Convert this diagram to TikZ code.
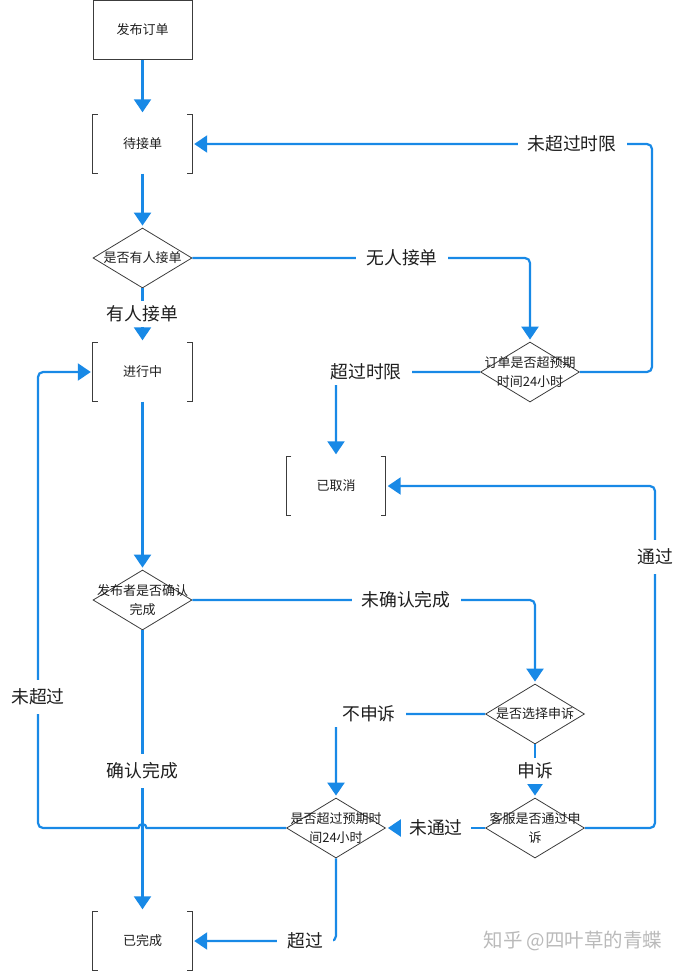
\documentclass[tikz,border=0pt]{standalone}
\usepackage{fontspec}
\setmainfont{Noto Sans CJK SC}
\usetikzlibrary{arrows.meta,shapes.geometric}
\definecolor{flowblue}{RGB}{24,137,230}
\definecolor{edgegray}{RGB}{60,60,60}
\definecolor{txt}{RGB}{30,30,30}
\newcommand\nodefont{\fontsize{13}{18.5}\selectfont}
\newcommand\lblfont{\fontsize{17.8}{20}\selectfont}
\newcommand\brk[1]{%
  \draw[boxline] ([xshift=5pt]#1.north west) -- (#1.north west) -- (#1.south west) -- ([xshift=5pt]#1.south west);
  \draw[boxline] ([xshift=-5pt]#1.north east) -- (#1.north east) -- (#1.south east) -- ([xshift=-5pt]#1.south east);}
\begin{document}
\begin{tikzpicture}[x=1pt,y=-1pt,
  boxline/.style={draw=edgegray,line width=0.8pt},
  boxnode/.style={rectangle,minimum width=99pt,minimum height=59pt,inner sep=0pt,font=\nodefont,text=txt},
  dia/.style={diamond,draw=edgegray,line width=0.8pt,minimum width=99pt,minimum height=60pt,inner sep=0pt},
  dtext/.style={align=center,font=\nodefont,text=txt,inner sep=0pt},
  conn/.style={draw=flowblue,line width=2.2pt,rounded corners=5pt},
  arr/.style={conn,-{Triangle[width=17pt,length=13pt]},shorten >=2pt},
  lbl/.style={fill=white,font=\lblfont,text=txt,inner xsep=10pt,inner ysep=5pt},
  wm/.style={font=\fontsize{19.5}{22}\selectfont,text=black!27}]
\useasboundingbox (0,0) rectangle (683,972);

% nodes
\node[boxnode,draw=edgegray,line width=0.8pt] (s) at (142.5,29.8) {发布订单};
\node[boxnode] (w) at (142.5,144) {待接单};
\node[dia] (d1) at (142.5,258) {};
\node[dtext] (d1t) at (d1) {是否有人接单};
\node[boxnode] (jc) at (142.5,372) {进行中};
\node[dia] (d2) at (530,372) {};
\node[dtext] (d2t) at (d2) {订单是否超预期\\时间24小时};
\node[boxnode] (cx) at (336,486) {已取消};
\node[dia] (d3) at (142.5,600) {};
\node[dtext] (d3t) at (d3) {发布者是否确认\\完成};
\node[dia] (d4) at (535,714) {};
\node[dtext] (d4t) at (d4) {是否选择申诉};
\node[dia] (d5) at (535,828) {};
\node[dtext] (d5t) at (d5) {客服是否通过申\\诉};
\node[dia] (d6) at (336,828) {};
\node[dtext] (d6t) at (d6) {是否超过预期时\\间24小时};
\node[boxnode] (dn) at (142.5,941) {已完成};
\brk{w}
\brk{jc}
\brk{cx}
\brk{dn}

% helper coordinates
\coordinate (r1) at (652,0);
\coordinate (r2) at (655,0);
\coordinate (r3) at (38,0);
\coordinate (hop) at (142.5,828);

% connectors
\draw[arr] (s.south) -- (w.north);
\draw[arr] (w.south) -- (d1.north);
\draw[arr] (d1.south) -- (jc.north);
\draw[arr] (d1.east) -| (d2.north);
\draw[arr] (d2.east) -- (d2.east -| r1) -- (w.east -| r1) -- (w.east);
\draw[arr] (d2.west) -| (cx.north);
\draw[arr] (jc.south) -- (d3.north);
\draw[arr] (d3.east) -| (d4.north);
\draw[arr] (d4.west) -| (d6.north);
\draw[arr] (d4.south) -- (d5.north);
\draw[arr] (d5.east) -- (d5.east -| r2) -- (cx.east -| r2) -- (cx.east);
\draw[arr] (d5.west) -- (d6.east);
\draw[arr] (d6.west) [sharp corners] -- ([xshift=4pt]hop) arc[start angle=0,end angle=180,radius=4pt] -- ([xshift=-8pt]hop) [rounded corners=5pt] -- (d6.west -| r3) -- (jc.west -| r3) -- (jc.west);
\draw[arr] (d3.south) -- (dn.north);
\draw[arr] (d6.south) -- (d6.south |- dn.east) -- (dn.east);

% labels
\node[lbl] (l1) at (572,144) {未超过时限};
\node[lbl] (l2) at (402,258) {无人接单};
\node[lbl] (l3) at (142.5,314) {有人接单};
\node[lbl] (l4) at (366,372) {超过时限};
\node[lbl,inner ysep=9pt] (l5) at (655,557) {通过};
\node[lbl] (l6) at (406,600) {未确认完成};
\node[lbl] (l7) at (369,714) {不申诉};
\node[lbl,inner ysep=9pt] (l8) at (38,697) {未超过};
\node[lbl,inner ysep=9pt] (l9) at (142.5,771) {确认完成};
\node[lbl] (l10) at (535,771) {申诉};
\node[lbl,inner xsep=8pt] (l11) at (436,828) {未通过};
\node[lbl] (l12) at (305,941) {超过};

% watermark
\node[wm] (wmk) at (573,941) {知乎 @四叶草的青蝶};
\end{tikzpicture}
\end{document}
